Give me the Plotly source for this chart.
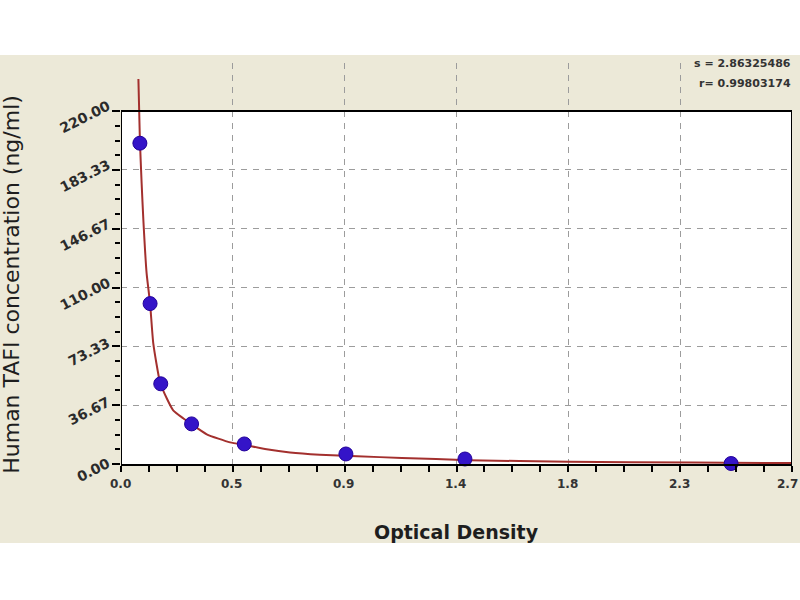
import plotly.graph_objects as go

# ---- data ----
od_points = [0.076, 0.117, 0.160, 0.284, 0.496, 0.905, 1.384, 2.455]
conc_points = [200.0, 100.0, 50.0, 25.0, 12.5, 6.25, 3.12, 0.3]

curve_od = [0.070, 0.076, 0.083, 0.090, 0.103, 0.117, 0.130, 0.157, 0.184, 0.21,
            0.25, 0.282, 0.345, 0.439, 0.5, 0.586, 0.68, 0.8, 0.95, 1.13,
            1.4, 1.8, 2.3, 2.7]
curve_conc = [240, 202, 175, 152, 119, 100, 75, 51, 41, 33.5,
              28.5, 25, 18.5, 13.5, 11.8, 9.2, 7.2, 5.8, 4.8, 3.8,
              2.4, 1.4, 0.9, 0.6]

x_major = [0.0, 0.45, 0.9, 1.35, 1.8, 2.25, 2.7]
x_labels = ["0.0", "0.5", "0.9", "1.4", "1.8", "2.3", "2.7"]
x_minor = [i * 0.1125 for i in range(25)]

y_major = [0.0, 36.667, 73.333, 110.0, 146.667, 183.333, 220.0]
y_labels = ["0.00", "36.67", "73.33", "110.00", "146.67", "183.33", "220.00"]
y_minor = [i * 220.0 / 24 for i in range(25)]

stat_lines = ["s = 2.86325486", "r= 0.99803174"]

BEIGE = "#ECE9D8"
X_MAX = 2.7
Y_TOP = 220.0
GRID = "#9C9C9C"

fig = go.Figure()
fig.add_trace(go.Scatter(x=curve_od, y=curve_conc, mode="lines",
                         line=dict(color="#A3302E", width=2, shape="spline", smoothing=0.5),
                         hoverinfo="skip", showlegend=False))
fig.add_trace(go.Scatter(x=od_points, y=conc_points, mode="markers",
                         marker=dict(color="#3414C8", size=14,
                                     line=dict(color="#22009A", width=1)),
                         showlegend=False, cliponaxis=False))

# backgrounds
fig.add_shape(type="rect", xref="paper", yref="paper",
              x0=-0.1803, x1=1.0119, y0=-0.197, y1=1.02,
              fillcolor=BEIGE, line=dict(width=0), layer="below")
fig.add_shape(type="rect", xref="x", yref="y", x0=0, x1=X_MAX, y0=0, y1=Y_TOP,
              fillcolor="white", line=dict(width=0), layer="below")
# frame
fig.add_shape(type="line", xref="x", yref="y", x0=0, x1=X_MAX, y0=Y_TOP, y1=Y_TOP,
              line=dict(color="black", width=2), layer="above")
fig.add_shape(type="line", xref="x", yref="y", x0=X_MAX, x1=X_MAX, y0=0, y1=Y_TOP,
              line=dict(color="black", width=2), layer="above")
fig.add_shape(type="line", xref="x", yref="y", x0=0, x1=0, y0=0, y1=Y_TOP,
              line=dict(color="black", width=2), layer="above")

fig.update_xaxes(range=[0, X_MAX], showline=True, linecolor="black", linewidth=2,
                 tickmode="array", tickvals=x_major, showticklabels=False,
                 ticks="outside", ticklen=6, tickwidth=2, tickcolor="black",
                 showgrid=True, gridcolor=GRID, griddash="6px,6px", gridwidth=1,
                 minor=dict(tickmode="array", tickvals=x_minor, ticks="outside",
                            ticklen=6, tickwidth=2, tickcolor="black", showgrid=False),
                 zeroline=False, fixedrange=True)
fig.update_yaxes(range=[0, 250], showline=False,
                 tickmode="array", tickvals=y_major, showticklabels=False,
                 ticks="outside", ticklen=8, tickwidth=2, tickcolor="black",
                 showgrid=True, gridcolor=GRID, griddash="6px,6px", gridwidth=1,
                 minor=dict(tickmode="array", tickvals=y_minor, ticks="outside",
                            ticklen=5, tickwidth=2, tickcolor="black", showgrid=False),
                 zeroline=False, fixedrange=True)

# x tick labels
for i, (val, lab) in enumerate(zip(x_major, x_labels)):
    fig.add_annotation(text=lab, xref="x", yref="paper", x=val, y=-0.0499,
                       xshift=(-5 if i == len(x_major) - 1 else -1),
                       showarrow=False, xanchor="center", yanchor="middle",
                       font=dict(family="DejaVu Sans", size=12, color="#333333",
                                 weight="bold"))

# rotated y tick labels
for val, lab in zip(y_major, y_labels):
    fig.add_annotation(text=lab, xref="paper", yref="y", x=-0.0089, y=val,
                       yshift=-6, showarrow=False, textangle=-27,
                       xanchor="right", yanchor="middle",
                       font=dict(family="DejaVu Sans", size=14, color="#2B2B2B",
                                 weight="bold"))

fig.add_annotation(text="Optical Density", xref="paper", yref="paper",
                   x=0.5, y=-0.1696, showarrow=False, xanchor="center", yanchor="middle",
                   font=dict(family="DejaVu Sans", size=19, color="#1E1E1E",
                             weight="bold"))
fig.add_annotation(text="Human TAFI concentration (ng/ml)", xref="paper", yref="paper",
                   x=-0.1624, y=0.447, showarrow=False, textangle=-90,
                   xanchor="center", yanchor="middle",
                   font=dict(family="DejaVu Sans", size=22, color="#1E1E1E"))
fig.add_annotation(text=stat_lines[0], xref="paper", yref="paper",
                   x=1.001, y=0.998, showarrow=False, xanchor="right", yanchor="middle",
                   font=dict(family="DejaVu Sans", size=11, color="#333333",
                             weight="bold"))
fig.add_annotation(text=stat_lines[1], xref="paper", yref="paper",
                   x=1.001, y=0.950, showarrow=False, xanchor="right", yanchor="middle",
                   font=dict(family="DejaVu Sans", size=11, color="#333333",
                             weight="bold"))

fig.update_layout(width=800, height=600, margin=dict(l=121, r=8, t=63, b=136),
                  paper_bgcolor="white", plot_bgcolor=BEIGE, showlegend=False)

fig.write_html("out.html", config={"displayModeBar": False},
               post_script="document.body.style.margin='0';")
